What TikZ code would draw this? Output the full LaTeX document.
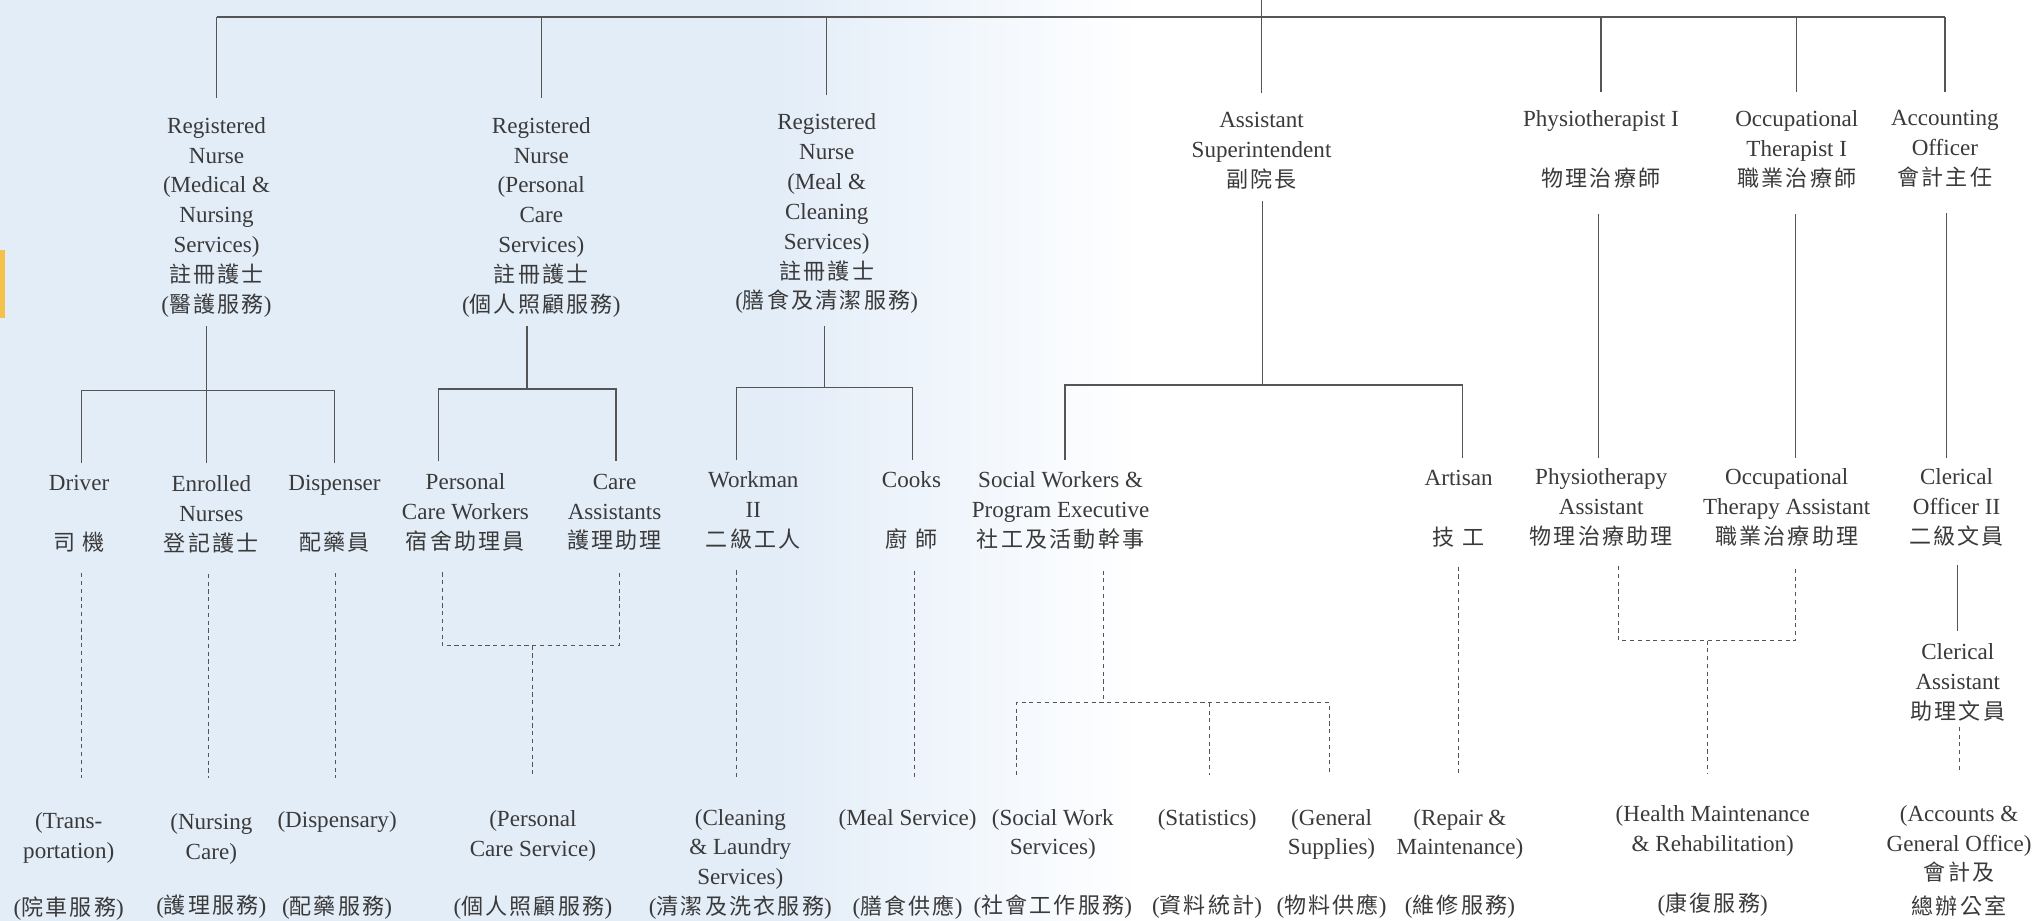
\documentclass[tikz,border=0pt]{standalone}
\usepackage{fontspec}
\usetikzlibrary{calc}
\setmainfont{Liberation Serif}
\newfontfamily\cjkfont[Scale=0.955,LetterSpace=10]{Noto Sans CJK TC}
\newcommand\zhtx[1]{{\cjkfont #1}}
\definecolor{bgblue}{HTML}{E3EDF8}
\definecolor{orangebar}{HTML}{F4C24A}
\definecolor{txtgray}{HTML}{3A3A3A}
\definecolor{lngray}{HTML}{555555}
\tikzset{
  lbl/.style={anchor=north, inner sep=0pt, align=center, text=txtgray, font=\fontsize{17.8}{23}\selectfont},
  conn/.style={draw=lngray, line width=1pt},
  dconn/.style={draw=lngray, line width=0.8pt, dash pattern=on 3.2pt off 2.8pt},
}
\begin{document}
\begin{tikzpicture}[x=1pt,y=-1pt]
\useasboundingbox (0,0) rectangle (1568,710);
% background
\fill[bgblue] (0,0) rectangle (600,710);
\shade[left color=bgblue, right color=white] (600,0) rectangle (880,710);
\fill[white] (880,0) rectangle (1568,710);
\fill[orangebar] (0,193) rectangle (3.5,245);

% ---------- level 1 ----------
\node[lbl] (rnmed) at (167,90.2) {Registered\\Nurse\\(Medical \&\\Nursing\\Services)\\\zhtx{註冊護士}\\(\zhtx{醫護服務})};
\node[lbl] (rnpc) at (417.5,90.2) {Registered\\Nurse\\(Personal\\Care\\Services)\\\zhtx{註冊護士}\\(\zhtx{個人照顧服務})};
\node[lbl] (rnmeal) at (637.6,87.7) {Registered\\Nurse\\(Meal \&\\Cleaning\\Services)\\\zhtx{註冊護士}\\(\zhtx{膳食及清潔服務})};
\node[lbl] (asst) at (973,86.3) {Assistant\\Superintendent\\\zhtx{副院長}};
\node[lbl] (pt1) at (1234.8,85.1) {Physiotherapist I\\[23pt]\zhtx{物理治療師}};
\node[lbl] (ot1) at (1385.8,85.1) {Occupational\\Therapist I\\\zhtx{職業治療師}};
\node[lbl] (acc) at (1500,85.1) {Accounting\\Officer\\\zhtx{會計主任}};

% ---------- level 2 ----------
\node[lbl] (drv) at (61,366.5) {Driver\\[23pt]\zhtx{司\hspace{6pt}機}};
\node[lbl] (enr) at (163,366.5) {Enrolled\\Nurses\\\zhtx{登記護士}};
\node[lbl] (dsp) at (258,366.5) {Dispenser\\[23pt]\zhtx{配藥員}};
\node[lbl] (pcw) at (359,365.3) {Personal\\Care Workers\\\zhtx{宿舍助理員}};
\node[lbl] (cas) at (474,365.3) {Care\\Assistants\\\zhtx{護理助理}};
\node[lbl] (wk2) at (581,363.8) {Workman\\II\\\zhtx{二級工人}};
\node[lbl] (cks) at (703,363.8) {Cooks\\[23pt]\zhtx{廚\hspace{6pt}師}};
\node[lbl] (swk) at (818,363.8) {Social Workers \&\\Program Executive\\\zhtx{社工及活動幹事}};
\node[lbl] (art) at (1125,362.5) {Artisan\\[23pt]\zhtx{技\hspace{6pt}工}};
\node[lbl] (pta) at (1235,361.5) {Physiotherapy\\Assistant\\\zhtx{物理治療助理}};
\node[lbl] (ota) at (1378,361.5) {Occupational\\Therapy Assistant\\\zhtx{職業治療助理}};
\node[lbl] (co2) at (1509,361.5) {Clerical\\Officer II\\\zhtx{二級文員}};
\node[lbl] (cla) at (1510,496.4) {Clerical\\Assistant\\\zhtx{助理文員}};

% ---------- level 3 ----------
\node[lbl] (trn) at (53,626.2) {(Trans-\\portation)\\[21pt](\zhtx{院車服務})};
\node[lbl] (nrs) at (163,627) {(Nursing\\Care)\\[19pt](\zhtx{護理服務})};
\node[lbl] (dspy) at (260,625.8) {(Dispensary)\\[44pt](\zhtx{配藥服務})};
\node[lbl] (pcs) at (411,624.8) {(Personal\\Care Service)\\[22pt](\zhtx{個人照顧服務})};
\node[lbl] (cln) at (571,623.8) {(Cleaning\\\& Laundry\\Services)\\(\zhtx{清潔及洗衣服務})};
\node[lbl] (mls) at (700,623.8) {(Meal Service)\\[46pt](\zhtx{膳食供應})};
\node[lbl] (sws) at (812,623.8) {(Social Work\\Services)\\[22pt](\zhtx{社會工作服務})};
\node[lbl] (sta) at (931,623.8) {(Statistics)\\[45pt](\zhtx{資料統計})};
\node[lbl] (gsp) at (1027,623.8) {(General\\Supplies)\\[22pt](\zhtx{物料供應})};
\node[lbl] (rpm) at (1126,623.8) {(Repair \&\\Maintenance)\\[22pt](\zhtx{維修服務})};
\node[lbl] (hmr) at (1321,620.8) {(Health Maintenance\\\& Rehabilitation)\\[24pt](\zhtx{康復服務})};
\node[lbl] (ago) at (1511,620.8) {(Accounts \&\\General Office)\\\zhtx{會計及}\\[3pt]\zhtx{總辦公室}};

% ---------- bus coordinates ----------
\coordinate (tb) at (0,13);
\coordinate (tk) at (0,0);
\coordinate (b1) at (0,301);
\coordinate (b2) at (0,300);
\coordinate (b3) at (0,299);
\coordinate (b4) at (0,297);
\coordinate (d1) at (0,498);
\coordinate (d2) at (0,542);
\coordinate (d3) at (0,494);

% ---------- top level connectors ----------
\draw[conn] (rnmed.north |- tb) -- (acc.north |- tb);
\draw[conn] (asst.north |- tb) -- (asst.north |- tk);
\foreach \n in {rnmed,rnpc,rnmeal,asst,pt1,ot1,acc}
  \draw[conn] ($(\n.north)+(0,-14.5)$) -- (\n.north |- tb);

% ---------- level 1 -> level 2 ----------
\path ($(rnmed.south)+(-7.5,7)$) coordinate (rnmedB);
\path ($(rnpc.south)+(-11,7)$) coordinate (rnpcB);
\path ($(rnmeal.south)+(-1.6,9)$) coordinate (rnmealB);
\path ($(asst.south)+(0.7,9)$) coordinate (asstB);
\path ($(pt1.south)+(-2,20)$) coordinate (pt1B);
\path ($(ot1.south)+(-0.8,20)$) coordinate (ot1B);
\path ($(acc.south)+(1,20)$) coordinate (accB);

\path ($(drv.north)+(1.6,-9.5)$) coordinate (drvT);
\path ($(enr.north)+(-3,-9.5)$) coordinate (enrT);
\path ($(dsp.north)+(0,-9.5)$) coordinate (dspT);
\path ($(pcw.north)+(-21,-9.5)$) coordinate (pcwT);
\path ($(cas.north)+(1,-9.5)$) coordinate (casT);
\path ($(wk2.north)+(-13,-9)$) coordinate (wk2T);
\path ($(cks.north)+(1,-9)$) coordinate (cksT);
\path ($(swk.north)+(3.5,-9)$) coordinate (swkT);
\path ($(art.north)+(3,-9.5)$) coordinate (artT);
\path ($(pta.north)+(0,-8.5)$) coordinate (ptaT);
\path ($(ota.north)+(8.6,-8.5)$) coordinate (otaT);
\path ($(co2.north)+(-8,-8.5)$) coordinate (co2T);

\draw[conn] (rnmedB) -- (rnmedB |- enrT);
\draw[conn] (drvT) |- (dspT |- b1) -- (dspT);
\draw[conn] (rnpcB) -- (rnpcB |- b2);
\draw[conn] (pcwT) |- (casT |- b2) -- (casT);
\draw[conn] (rnmealB) -- (rnmealB |- b3);
\draw[conn] (wk2T) |- (cksT |- b3) -- (cksT);
\draw[conn] (asstB) -- (asstB |- b4);
\draw[conn] (swkT) |- (artT |- b4) -- (artT);
\draw[conn] (pt1B) -- (pt1B |- ptaT);
\draw[conn] (ot1B) -- (ot1B |- otaT);
\draw[conn] (accB) -- (accB |- co2T);

% clerical officer -> clerical assistant
\path ($(co2.south)+(1,14)$) coordinate (co2B);
\path ($(cla.north)+(0,-9.5)$) coordinate (claT);
\draw[conn] (co2B) -- (co2B |- claT);

% ---------- level 2 -> level 3 (dashed) ----------
\path ($(drv.south)+(1.6,16)$) coordinate (drvB);
\path ($(enr.south)+(-2,16)$) coordinate (enrB);
\path ($(dsp.south)+(0.5,16)$) coordinate (dspB);
\path ($(pcw.south)+(-18,16)$) coordinate (pcwB);
\path ($(cas.south)+(3.6,16)$) coordinate (casB);
\path ($(wk2.south)+(-12.6,16)$) coordinate (wk2B);
\path ($(cks.south)+(2,16)$) coordinate (cksB);
\path ($(swk.south)+(33,16)$) coordinate (swkB);
\path ($(art.south)+(0,15)$) coordinate (artB);
\path ($(pta.south)+(13.5,15)$) coordinate (ptaB);
\path ($(ota.south)+(7,15)$) coordinate (otaB);
\path ($(cla.south)+(1,4)$) coordinate (claB);

\path ($(trn.north)+(10.7,-26)$) coordinate (trnT);
\path ($(nrs.north)+(0,-27)$) coordinate (nrsT);
\path ($(dspy.north)+(0,-26)$) coordinate (dspyT);
\path ($(pcs.north)+(-0.6,-25)$) coordinate (pcsT);
\path ($(cln.north)+(-2.6,-24)$) coordinate (clnT);
\path ($(mls.north)+(5.5,-24)$) coordinate (mlsT);
\path ($(sws.north)+(-28.3,-26)$) coordinate (swsT);
\path ($(sta.north)+(2,-26)$) coordinate (staT);
\path ($(gsp.north)+(-1.5,-26)$) coordinate (gspT);
\path ($(rpm.north)+(-1,-26)$) coordinate (rpmT);
\path ($(hmr.north)+(-4,-24.5)$) coordinate (hmrT);
\path ($(ago.north)+(0,-25)$) coordinate (agoT);

\draw[dconn] (drvB) -- (drvB |- trnT);
\draw[dconn] (enrB) -- (enrB |- nrsT);
\draw[dconn] (dspB) -- (dspB |- dspyT);
\draw[dconn] (pcwB) |- (casB |- d1) -- (casB);
\draw[dconn] (pcsT |- d1) -- (pcsT);
\draw[dconn] (wk2B) -- (wk2B |- clnT);
\draw[dconn] (cksB) -- (cksB |- mlsT);
\draw[dconn] (swkB) -- (swkB |- d2);
\draw[dconn] (swsT) |- (gspT |- d2) -- (gspT);
\draw[dconn] (staT |- d2) -- (staT);
\draw[dconn] (artB) -- (artB |- rpmT);
\draw[dconn] (ptaB) |- (otaB |- d3) -- (otaB);
\draw[dconn] (hmrT |- d3) -- (hmrT);
\draw[dconn] (claB) -- (claB |- agoT);
\end{tikzpicture}
\end{document}
